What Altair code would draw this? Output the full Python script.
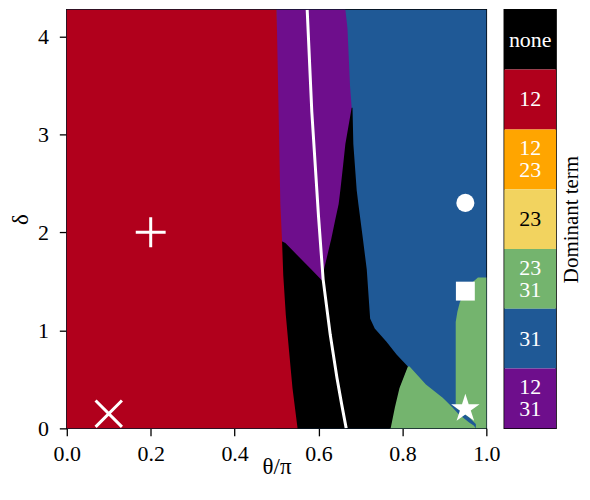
import altair as alt
import pandas as pd

FONT = "Liberation Serif"

# ---- region boundaries: theta/pi (left, right) as a function of delta ----
BG_D = [0.0, 4.27]
BG_L = [0.0, 0.0]
BG_R = [1.0, 1.0]

RED_D = [0.0, 0.41, 0.78, 1.16, 1.56, 1.92, 2.29, 3.20, 4.27]
RED_L = [0.0, 0.0, 0.0, 0.0, 0.0, 0.0, 0.0, 0.0, 0.0]
RED_R = [0.550, 0.538, 0.530, 0.522, 0.516, 0.513, 0.509, 0.505, 0.500]

PURPLE_D = [1.505, 1.62, 1.89, 1.925, 2.13, 2.29, 2.43, 2.70, 2.90, 3.27, 3.50, 4.08, 4.27]
PURPLE_L = [0.609, 0.583, 0.521, 0.505, 0.50, 0.50, 0.50, 0.50, 0.50, 0.50, 0.50, 0.50, 0.50]
PURPLE_R = [0.609, 0.613, 0.628, 0.630, 0.640, 0.648, 0.652, 0.659, 0.664, 0.679, 0.675, 0.669, 0.664]

BLACK_D = [0.0, 0.212, 0.413, 0.632, 0.753, 0.884, 1.02, 1.12, 1.62, 1.96, 2.29, 2.43, 2.90, 3.27]
BLACK_L = [0.50, 0.50, 0.50, 0.50, 0.50, 0.50, 0.50, 0.50, 0.50, 0.50, 0.50, 0.50, 0.50, 0.50]
BLACK_R = [0.772, 0.782, 0.793, 0.813, 0.786, 0.762, 0.734, 0.723, 0.715, 0.705, 0.695, 0.691, 0.683, 0.681]

GTRI_D = [0.0, 0.03, 0.06, 0.148, 0.21, 0.28, 0.312, 0.447, 0.632]
GTRI_L = [0.770, 0.771, 0.773, 0.776, 0.779, 0.782, 0.784, 0.795, 0.812]
GTRI_R = [0.975, 0.970, 0.959, 0.933, 0.920, 0.904, 0.896, 0.856, 0.817]

GSTRIP_D = [0.0, 0.044, 0.11, 0.21, 0.31, 1.085, 1.19, 1.29, 1.39, 1.49, 1.54]
GSTRIP_L = [0.975, 0.975, 0.959, 0.927, 0.927, 0.927, 0.931, 0.937, 0.951, 0.967, 0.980]
GSTRIP_R = [1.0, 1.0, 1.0, 1.0, 1.0, 1.0, 1.0, 1.0, 1.0, 1.0, 1.0]

# ---- white curve ----
CURVE_D = [0.0, 0.25, 0.514, 0.954, 1.52, 2.163, 3.23, 4.27]
CURVE_X = [0.666, 0.655, 0.644, 0.628, 0.611, 0.600, 0.584, 0.573]

# ---- markers ----
MARK_X = [0.2, 0.1, 0.95, 0.95, 0.95]
MARK_D = [2.0, 0.15, 2.3, 1.4, 0.2]
MARK_SHAPE = ["plus", "x", "circle", "square", "star"]

# ---- colour bar ----
CB_LABELS = ["none", "12", "12\n23", "23", "23\n31", "31", "12\n31"]
CB_LINES = [1, 1, 2, 1, 2, 1, 2]
CB_COLORS = ["#000000", "#B1001C", "#FFA500", "#F2D35F", "#74B46E", "#1F5996", "#6E0E8C"]
CB_TEXT = ["white", "white", "white", "black", "white", "white", "white"]

C_BLUE, C_RED, C_PURPLE, C_BLACK, C_GREEN = "#1F5996", "#B1001C", "#6E0E8C", "#000000", "#74B46E"

STAR_PATH = ("M0,-1L0.2245,-0.309L0.951,-0.309L0.3633,0.118L0.5878,0.809L0,0.382"
             "L-0.5878,0.809L-0.3633,0.118L-0.951,-0.309L-0.2245,-0.309Z")

XS = alt.Scale(domain=[0, 1], nice=False, zero=False)
YS = alt.Scale(domain=[0, 4.27], nice=False, zero=False)
XAX = alt.Axis(title="θ/π", values=[0, 0.2, 0.4, 0.6, 0.8, 1.0], format=".1f",
               labelFlush=False, labelOverlap=False, labelPadding=8, titlePadding=-9)
YAX = alt.Axis(title="δ", values=[0, 1, 2, 3, 4], format="d", labelOverlap=False,
               labelPadding=11, titlePadding=5)


def region(d, l, r, color):
    df = pd.DataFrame({"d": d, "l": l, "r": r})
    return alt.Chart(df).mark_area(orient="horizontal", color=color, opacity=1,
                                   interpolate="linear").encode(
        y=alt.Y("d:Q", scale=YS, axis=YAX),
        x=alt.X("l:Q", scale=XS, axis=XAX),
        x2="r:Q",
    )


bg = region(BG_D, BG_L, BG_R, C_BLUE)
gstrip = region(GSTRIP_D, GSTRIP_L, GSTRIP_R, C_GREEN)
gtri = region(GTRI_D, GTRI_L, GTRI_R, C_GREEN)
black = region(BLACK_D, BLACK_L, BLACK_R, C_BLACK)
purple = region(PURPLE_D, PURPLE_L, PURPLE_R, C_PURPLE)
red = region(RED_D, RED_L, RED_R, C_RED)

curve_df = pd.DataFrame({"d": CURVE_D, "x": CURVE_X})
curve = alt.Chart(curve_df).mark_line(color="white", strokeWidth=3, clip=True).encode(
    x=alt.X("x:Q", scale=XS, axis=XAX),
    y=alt.Y("d:Q", scale=YS, axis=YAX),
    order="d:Q",
)

mk = pd.DataFrame({"x": MARK_X, "d": MARK_D, "shape": MARK_SHAPE})


def marker(name, shape, size, filled):
    sub = mk[mk["shape"] == name].reset_index(drop=True)
    if filled:
        m = alt.Chart(sub).mark_point(shape=shape, size=size, filled=True, fill="white",
                                      strokeWidth=0, opacity=1)
    else:
        m = alt.Chart(sub).mark_point(shape=shape, size=size, filled=False, stroke="white",
                                      strokeWidth=3, opacity=1)
    return m.encode(x=alt.X("x:Q", scale=XS, axis=XAX), y=alt.Y("d:Q", scale=YS, axis=YAX))


plus = marker("plus", "M-1,0L1,0M0,-1L0,1", 900, False)
cross = marker("x", "M-1,-1L1,1M1,-1L-1,1", 700, False)
circ = marker("circle", "circle", 330, True)
sq = marker("square", "square", 360, True)
star = marker("star", STAR_PATH, 900, True)

main = alt.layer(bg, gstrip, gtri, black, purple, red, curve, plus, cross, circ, sq, star).properties(
    width=421, height=420
)

cb_df = pd.DataFrame({"label": CB_LABELS, "lines": CB_LINES, "tc": CB_TEXT})
cb_y = alt.Y("label:N", sort=CB_LABELS, scale=alt.Scale(paddingInner=0, paddingOuter=0),
             axis=alt.Axis(orient="right", title="Dominant term", labels=False, ticks=False,
                           domain=False, titleAngle=270, titleBaseline="top",
                           titlePadding=4, titleFontSize=21))
cb_rect = alt.Chart(cb_df).mark_rect().encode(
    y=cb_y,
    color=alt.Color("label:N", scale=alt.Scale(domain=CB_LABELS, range=CB_COLORS), legend=None),
)


def cb_text(nlines, dy):
    return alt.Chart(cb_df).transform_filter(alt.datum.lines == nlines).mark_text(
        lineBreak="\n", font=FONT, fontSize=22, lineHeight=22, baseline="middle", dy=dy
    ).encode(
        y=cb_y,
        text="label:N",
        color=alt.Color("tc:N", scale=None),
    )


cbar = alt.layer(cb_rect, cb_text(1, 0), cb_text(2, -11)).properties(width=52, height=420)

chart = alt.HConcatChart(hconcat=[main, cbar], spacing=18, bounds="flush").configure(
    padding={"left": 0, "top": 0, "right": 0, "bottom": 0},
    font=FONT,
).configure_view(
    stroke="black", strokeWidth=1.5
).configure_axis(
    labelFont=FONT, titleFont=FONT, labelFontSize=22, titleFontSize=23,
    labelColor="black", titleColor="black", tickColor="black",
    tickSize=7.5, tickWidth=1.3, domain=False, grid=False,
    titleFontWeight="normal"
)

chart.save("out.html", embed_options={"renderer": "svg", "actions": False})
